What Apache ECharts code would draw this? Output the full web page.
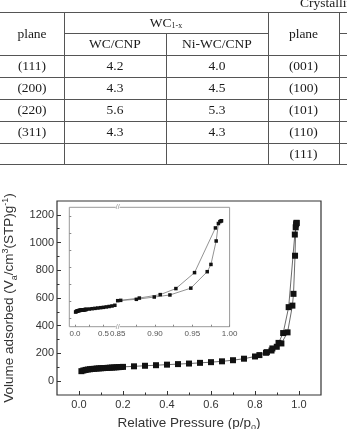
<!DOCTYPE html>
<html><head><meta charset="utf-8">
<script src="https://cdn.jsdelivr.net/npm/echarts@6/dist/echarts.min.js"></script>
<style>
html,body{margin:0;padding:0;width:347px;height:429px;overflow:hidden;background:#fff;}
#chart{position:absolute;left:0;top:0;width:347px;height:429px;}
#table{position:absolute;left:0;top:0;width:347px;height:429px;pointer-events:none;font-family:"Liberation Serif","DejaVu Serif",serif;font-size:13.5px;color:#1a1a1a;overflow:hidden;}
.h{position:absolute;height:1px;background:#555;}
.v{position:absolute;width:1px;background:#555;}
.c{position:absolute;display:flex;align-items:center;justify-content:center;white-space:nowrap;}
</style></head><body>
<div id="chart"></div>
<div id="table"></div>
<script>
// ---- table data ----
const planesA = ['(111)', '(200)', '(220)', '(311)', ''];
const wcCnp = ['4.2', '4.3', '5.6', '4.3', ''];
const niWcCnp = ['4.0', '4.5', '5.3', '4.3', ''];
const planesB = ['(001)', '(100)', '(101)', '(110)', '(111)'];

// ---- isotherm data ----
const adsP = [0.011,0.02,0.03,0.04,0.05,0.06,0.07,0.08,0.09,0.10,0.11,0.12,0.13,0.14,0.15,0.16,0.17,0.18,0.19,0.20,0.25,0.30,0.35,0.40,0.45,0.50,0.55,0.60,0.65,0.70,0.75,0.80,0.82,0.85,0.875,0.899,0.920,0.948,0.970,0.975,0.982,0.985,0.987,0.989];
const adsV = [72,77,81,84,86,88,89,91,92,93,94,95,96,97,98,99,100,101,102,103,107,111,115,119,123,127,132,137,143,151,162,178,188,205,221,248,272,352,545,630,905,1110,1132,1142];
const desP = [0.989,0.981,0.953,0.928,0.907,0.879,0.854];
const desV = [1142,1058,534,347,276,236,209];

const mainXLabels = [0, 0.2, 0.4, 0.6, 0.8, 1.0];
const mainXMinor = [0.1, 0.3, 0.5, 0.7, 0.9];
const mainYLabels = [0, 200, 400, 600, 800, 1000, 1200];
const mainYMinor = [100, 300, 500, 700, 900, 1100];
const insetLeftLabels = [0, 0.5];
const insetLeftTicks = [0, 0.25, 0.5];
const insetRightLabels = [0.85, 0.9, 0.95, 1.0];
const insetRightTicks = [0.85, 0.875, 0.9, 0.925, 0.95, 0.975, 1.0];
const insetYTicks = [0, 200, 400, 600, 800, 1000, 1200];

// ---- build table ----
const T = document.getElementById('table');
function add(cls, l, t, w, h, html) {
  const d = document.createElement('div');
  d.className = cls;
  d.style.left = l + 'px'; d.style.top = t + 'px';
  if (w != null) d.style.width = w + 'px';
  if (h != null) d.style.height = h + 'px';
  if (html != null) d.innerHTML = html;
  T.appendChild(d);
  return d;
}
const colX = [0, 64, 166, 268, 339, 347];
const rowY = [12, 33, 55, 77, 99, 121, 143, 164];
add('h', 0, 12, 347, null);
add('h', 64, 33, 204, null);
add('h', 339, 33, 8, null);
[55, 77, 99, 121, 143, 164].forEach(y => add('h', 0, y, 347, null));
[64, 268, 339].forEach(x => add('v', x, 12, null, 153));
add('v', 166, 33, null, 132);
add('c', 0, 12, 64, 43, 'plane');
add('c', 64, 12, 204, 21, 'WC<span style="font-size:8px;position:relative;top:3px;">1-x</span>');
add('c', 64, 33, 102, 22, 'WC/CNP');
add('c', 166, 33, 102, 22, 'Ni-WC/CNP');
add('c', 268, 12, 71, 43, 'plane');
for (let i = 0; i < planesA.length; i++) {
  const y = rowY[i + 2], h = rowY[i + 3] - rowY[i + 2];
  add('c', colX[0], y, colX[1] - colX[0], h, planesA[i]);
  add('c', colX[1], y, colX[2] - colX[1], h, wcCnp[i]);
  add('c', colX[2], y, colX[3] - colX[2], h, niWcCnp[i]);
  add('c', colX[3], y, colX[4] - colX[3], h, planesB[i]);
}
const cr = add('c', 300, -4, 200, 14, 'Crystallite size (nm)');
cr.style.justifyContent = 'flex-start';
cr.style.lineHeight = '13.5px';

// ---- chart ----
const pair = (xs, ys) => xs.map((x, i) => [x, ys[i]]);
const ads = pair(adsP, adsV);
const des = pair(desP, desV);
const FONT = 'Liberation Sans';
const TXT = '#333';
const richName = {
  m: { fontSize: 13.5, fontFamily: FONT, color: TXT, lineHeight: 18, verticalAlign: 'middle' },
  sub: { fontSize: 9, fontFamily: FONT, color: TXT, lineHeight: 9, verticalAlign: 'bottom' },
  sup: { fontSize: 9, fontFamily: FONT, color: TXT, lineHeight: 9, verticalAlign: 'top' }
};
const chart = echarts.init(document.getElementById('chart'), null, { renderer: 'canvas' });
const insetTop = 207.3, insetH = 119.4;
const lineCommon = { type: 'line', symbol: 'rect', animation: false, z: 3 };
chart.setOption({
  backgroundColor: 'transparent',
  animation: false,
  grid: [
    { left: 57, top: 201, width: 264, height: 194, show: true, borderColor: '#333', borderWidth: 1.2, backgroundColor: 'transparent', containLabel: false, outerBoundsMode: 'none' },
    { left: 69.3, top: insetTop, width: 160.3, height: insetH, show: true, borderColor: '#999', borderWidth: 1, backgroundColor: '#fff', containLabel: false, outerBoundsMode: 'none' },
    { left: 69.3, top: insetTop, width: 48.4, height: insetH, show: false, containLabel: false, outerBoundsMode: 'none' },
    { left: 117.7, top: insetTop, width: 111.9, height: insetH, show: false, containLabel: false, outerBoundsMode: 'none' }
  ],
  xAxis: [
    { gridIndex: 0, type: 'value', min: -0.1, max: 1.1, position: 'bottom',
      axisLine: { show: false, onZero: false },
      axisTick: { show: true, inside: true, length: 4, customValues: mainXLabels, lineStyle: { color: '#333', width: 1 } },
      axisLabel: { customValues: mainXLabels, formatter: v => v.toFixed(1), fontSize: 11, fontFamily: FONT, color: TXT, margin: 4 },
      splitLine: { show: false },
      name: '{m|Relative Pressure (p/p}{sub|o}{m|)}', nameLocation: 'middle', nameGap: 19,
      nameTextStyle: { rich: richName } },
    { gridIndex: 0, type: 'value', min: -0.1, max: 1.1, position: 'bottom',
      axisLine: { show: false, onZero: false },
      axisTick: { show: true, inside: true, length: 2.5, customValues: mainXMinor, lineStyle: { color: '#333', width: 1 } },
      axisLabel: { show: false }, splitLine: { show: false } },
    { gridIndex: 2, type: 'value', min: -0.1, max: 0.75, position: 'bottom',
      axisLine: { show: false, onZero: false },
      axisTick: { show: true, inside: true, length: 2, customValues: insetLeftTicks, lineStyle: { color: '#888', width: 1 } },
      axisLabel: { customValues: insetLeftLabels, formatter: v => v.toFixed(1), fontSize: 8, fontFamily: FONT, color: '#555', margin: 3 },
      splitLine: { show: false } },
    { gridIndex: 3, type: 'value', min: 0.85, max: 1.0, position: 'bottom',
      axisLine: { show: false, onZero: false },
      axisTick: { show: true, inside: true, length: 2, customValues: insetRightTicks, lineStyle: { color: '#888', width: 1 } },
      axisLabel: { customValues: insetRightLabels, formatter: v => v.toFixed(2), fontSize: 8, fontFamily: FONT, color: '#555', margin: 3, showMinLabel: true, showMaxLabel: true },
      splitLine: { show: false } }
  ],
  yAxis: [
    { gridIndex: 0, type: 'value', min: -100, max: 1300, position: 'left',
      axisLine: { show: false, onZero: false },
      axisTick: { show: true, inside: true, length: 4, customValues: mainYLabels, lineStyle: { color: '#333', width: 1 } },
      axisLabel: { customValues: mainYLabels, formatter: v => String(v), fontSize: 11, fontFamily: FONT, color: TXT, margin: 3 },
      splitLine: { show: false },
      name: '{m|Volume adsorbed (V}{sub|a}{m|/cm}{sup|3}{m|(STP)g}{sup|-1}{m|)}', nameLocation: 'middle', nameGap: 34,
      nameTextStyle: { rich: richName } },
    { gridIndex: 0, type: 'value', min: -100, max: 1300, position: 'left',
      axisLine: { show: false, onZero: false },
      axisTick: { show: true, inside: true, length: 2.5, customValues: mainYMinor, lineStyle: { color: '#333', width: 1 } },
      axisLabel: { show: false }, splitLine: { show: false } },
    { gridIndex: 2, type: 'value', min: -100, max: 1300, position: 'left',
      axisLine: { show: false, onZero: false },
      axisTick: { show: true, inside: true, length: 2, customValues: insetYTicks, lineStyle: { color: '#888', width: 1 } },
      axisLabel: { show: false }, splitLine: { show: false } },
    { gridIndex: 3, type: 'value', min: -100, max: 1300, position: 'left',
      axisLine: { show: false, onZero: false }, axisTick: { show: false },
      axisLabel: { show: false }, splitLine: { show: false } }
  ],
  series: [
    Object.assign({}, lineCommon, { name: 'ads', xAxisIndex: 0, yAxisIndex: 0, data: ads, symbolSize: 6,
      itemStyle: { color: '#111' }, lineStyle: { color: '#444', width: 0.8 } }),
    Object.assign({}, lineCommon, { name: 'des', xAxisIndex: 0, yAxisIndex: 0, data: des, symbolSize: 6,
      itemStyle: { color: '#111' }, lineStyle: { color: '#444', width: 0.8 } }),
    Object.assign({}, lineCommon, { name: 'insetLow', xAxisIndex: 2, yAxisIndex: 2, data: ads.filter(d => d[0] <= 0.7), symbolSize: 3.5,
      itemStyle: { color: '#111' }, lineStyle: { color: '#777', width: 0.8 } }),
    Object.assign({}, lineCommon, { name: 'insetAds', xAxisIndex: 3, yAxisIndex: 3, data: ads.filter(d => d[0] >= 0.85), symbolSize: 3.5,
      itemStyle: { color: '#111' }, lineStyle: { color: '#777', width: 0.8 } }),
    Object.assign({}, lineCommon, { name: 'insetDes', xAxisIndex: 3, yAxisIndex: 3, data: des.filter(d => d[0] >= 0.85), symbolSize: 3.5,
      itemStyle: { color: '#111' }, lineStyle: { color: '#777', width: 0.8 } })
  ]
});
// axis-break marks on the inset frame
const bx = chart.convertToPixel({ xAxisIndex: 3 }, 0.85);
const byTop = chart.convertToPixel({ yAxisIndex: 3 }, 1300);
const byBot = chart.convertToPixel({ yAxisIndex: 3 }, -100);
chart.setOption({
  graphic: [byTop, byBot].map(y => ({
    type: 'text', x: bx, y: y, z: 10,
    style: { text: '//', fontSize: 7, fontFamily: FONT, fill: '#888', align: 'center', verticalAlign: 'middle', backgroundColor: '#fff' }
  }))
});
</script>
</body></html>
